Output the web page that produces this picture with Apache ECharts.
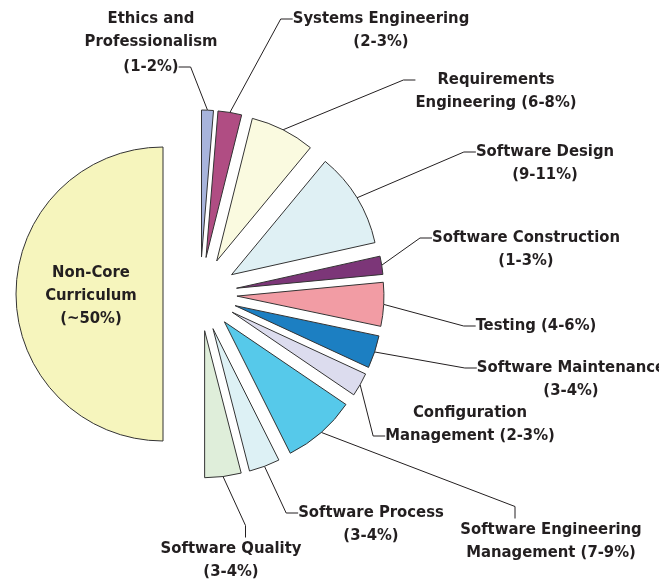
<!DOCTYPE html>
<html>
<head>
<meta charset="utf-8">
<script src="https://cdn.jsdelivr.net/npm/echarts@6/dist/echarts.min.js"></script>
<style>
html, body { margin: 0; padding: 0; background: #fff; }
#chart { width: 659px; height: 583px; }
</style>
</head>
<body>
<div id="chart"></div>
<script>
// 知识领域名称
let area_names = ['Ethics and Professionalism', 'Systems Engineering', 'Requirements Engineering', 'Software Design', 'Software Construction', 'Testing', 'Software Maintenance', 'Configuration Management', 'Software Engineering Management', 'Software Process', 'Software Quality', 'Non-Core Curriculum'];
// 标签文字
let area_labels = ['(1-2%)', 'Systems Engineering\n(2-3%)', 'Requirements\nEngineering (6-8%)', 'Software Design\n(9-11%)', 'Software Construction\n(1-3%)', 'Testing (4-6%)', 'Software Maintenance\n(3-4%)', 'Configuration\nManagement (2-3%)', 'Software Engineering\nManagement (7-9%)', 'Software Process\n(3-4%)', 'Software Quality\n(3-4%)', 'Non-Core\nCurriculum\n(~50%)'];
// 占比
let area_values = [1.3, 2.6, 7.1, 10.5, 2.0, 4.8, 3.6, 2.6, 8.1, 3.4, 4.0, 50];
// 颜色
let area_colors = ['#a8b4dc', '#b04d83', '#fafae0', '#dff0f4', '#7c3678', '#f29ca4', '#1c7fc2', '#dcdcee', '#56c9ea', '#ddf1f5', '#dfeeda', '#f6f5bd'];
// 标签位置 [文字中心x, 首行y, 引线接入方式, 左补, 右补]
let label_pos = [
	[151, 67, 'first'],
	[381, 19, 'first'],
	[496, 80, 'first'],
	[545, 152, 'first'],
	[526, 238, 'first'],
	[536, 326, 'first'],
	[571, 368, 'first'],
	[470, 413, 'last'],
	[551, 530, 'top', 72, 0],
	[371, 513, 'first'],
	[231, 549, 'top', 0, 29],
	[91, 273, 'inside'],
];

let FONT_FAMILY = "'DejaVu Sans Condensed', sans-serif";
let FONT_SIZE = 16.5;
let LH = 23;
let TEXT_COLOR = '#231f20';
let LINE_COLOR = '#231f20';
let base_center = [200, 294];
let R = 147;
let OFFSET = 37;

let measure_ctx = document.createElement('canvas').getContext('2d');
function text_width(text) {
	measure_ctx.font = `bold ${FONT_SIZE}px ${FONT_FAMILY}`;
	return Math.max(...text.split('\n').map((s) => measure_ctx.measureText(s).width));
}

let chart = echarts.init(document.getElementById('chart'));
let total = area_values.reduce((a, b) => a + b, 0);
let series = [];
let before = 0;
area_values.forEach((v, i) => {
	// 每块沿自身平分线外移
	let mid = ((before + v / 2) / total) * 2 * Math.PI;
	let cx = base_center[0] + OFFSET * Math.sin(mid);
	let cy = base_center[1] - OFFSET * Math.cos(mid);
	let start = 90 - (before / total) * 360;
	before += v;

	let lp = label_pos[i];
	let text = area_labels[i];
	let n = text.split('\n').length;
	let pt = 0, pb = 0, pl = 0, pr = 0;
	if (lp[2] === 'first') pt = (n - 1) * LH;
	if (lp[2] === 'last') pb = (n - 1) * LH;
	if (lp[2] === 'top') {
		pb = 200;
		pl = lp[3] || 0;
		pr = lp[4] || 0;
	}
	let w = text_width(text);
	let inside = lp[2] === 'inside';

	series.push({
		type: 'pie',
		center: [cx, cy],
		radius: [0, R],
		startAngle: start,
		clockwise: true,
		avoidLabelOverlap: false,
		animation: false,
		silent: true,
		itemStyle: {
			borderColor: '#333333',
			borderWidth: 1,
		},
		label: {
			show: true,
			position: inside ? 'inside' : 'outside',
			formatter: text,
			color: TEXT_COLOR,
			fontFamily: FONT_FAMILY,
			fontSize: FONT_SIZE,
			fontWeight: 'bold',
			lineHeight: LH,
			overflow: 'none',
			padding: [pt, pr, pb, pl],
			backgroundColor: 'rgba(255,255,255,0)',
		},
		labelLine: {
			show: !inside,
			length: 10,
			length2: 12,
			lineStyle: { color: LINE_COLOR, width: 1 },
		},
		labelLayout: (params) => {
			if (params.dataIndex !== 0) return {};
			return {
				x: lp[0] - (pl - pr) / 2,
				y: lp[1] - LH / 2 - pt,
				align: 'center',
				verticalAlign: 'top',
				width: w,
			};
		},
		data: [
			{ value: v, name: area_names[i], itemStyle: { color: area_colors[i] } },
			{
				value: total - v,
				name: '',
				itemStyle: { color: 'rgba(0,0,0,0)', borderWidth: 0 },
				label: { show: false },
				labelLine: { show: false },
				emphasis: { disabled: true },
			},
		],
	});
});

chart.setOption({
	animation: false,
	graphic: [
		{
			type: 'text',
			x: 151,
			y: 19 - LH / 2,
			style: {
				text: 'Ethics and\nProfessionalism',
				align: 'center',
				verticalAlign: 'top',
				fontFamily: FONT_FAMILY,
				fontSize: FONT_SIZE,
				fontWeight: 'bold',
				lineHeight: LH,
				fill: TEXT_COLOR,
			},
		},
	],
	series: series,
});
</script>
</body>
</html>
